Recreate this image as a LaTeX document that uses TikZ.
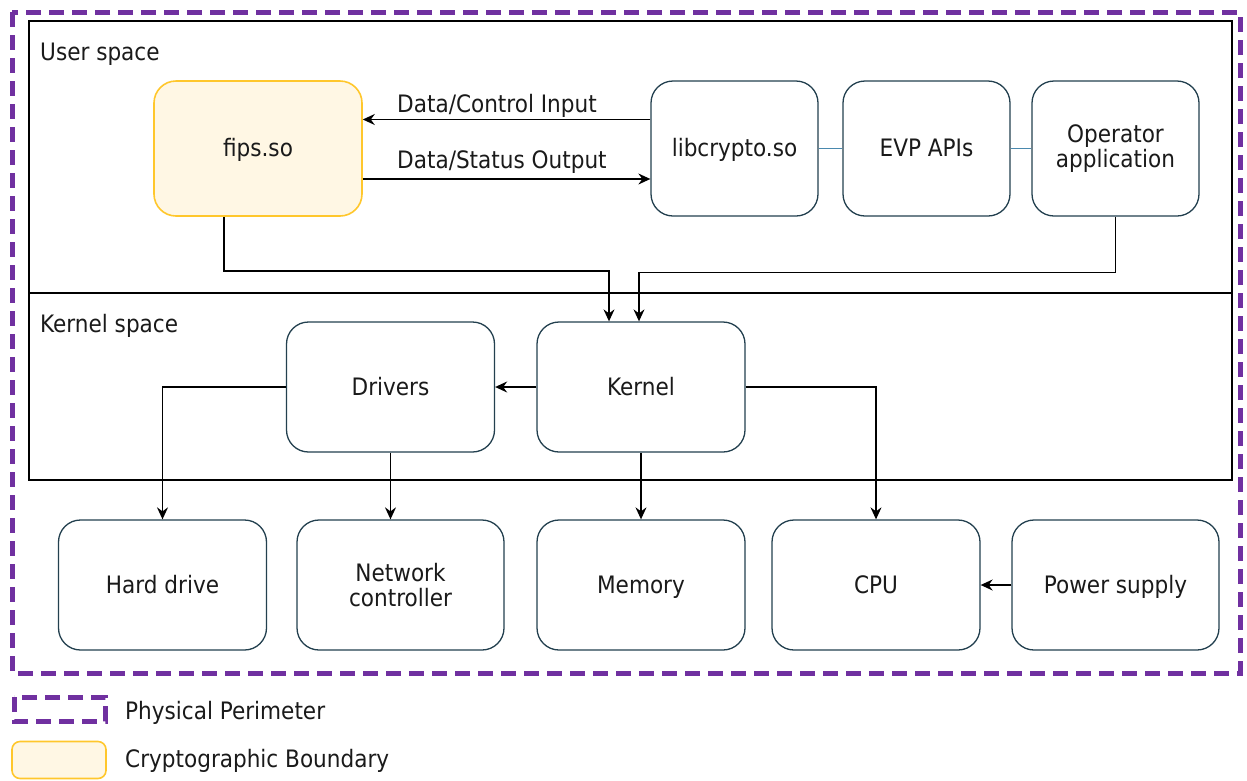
\documentclass[tikz,border=0pt]{standalone}
\usepackage{fontspec}
\setmainfont{DejaVu Sans Condensed}
\usetikzlibrary{arrows.meta,calc}
\definecolor{perim}{HTML}{7030A0}
\definecolor{boxline}{HTML}{23404F}
\definecolor{cbfill}{HTML}{FFF7E4}
\definecolor{cbline}{HTML}{FFC72C}
\definecolor{bluelink}{HTML}{4A89AE}
\definecolor{txt}{HTML}{1A1A1A}
\tikzset{
  blk/.style={draw=boxline, line width=1.3pt, rounded corners=22pt, fill=white,
    minimum width=208pt, minimum height=135pt, inner sep=0pt, align=center,
    text=txt, font=\fontsize{24}{25.5}\selectfont},
  oneline/.style={text height=16pt, text depth=0pt},
  cb/.style={blk, draw=cbline, fill=cbfill, line width=1.6pt},
  arr/.style={draw=black, line width=1.4pt, -{Stealth[length=12pt,width=11pt,inset=4pt]}},
  lbl/.style={text=txt, font=\fontsize{24}{25.5}\selectfont, inner sep=0pt},
  region/.style={draw=black, line width=1.4pt},
  perimeter/.style={draw=perim, line width=5pt, dash pattern=on 15pt off 8pt},
  blink/.style={draw=bluelink, line width=1.3pt}
}
\begin{document}
\begin{tikzpicture}[x=1pt,y=-1pt]
\useasboundingbox (0,0) rectangle (1247,780);
% outer perimeter and spaces
\draw[perimeter] (12,12) rectangle (1240,673);
\draw[region] (29,21) rectangle (1232,293);
\draw[region] (29,293) rectangle (1232,480);
\node[lbl, anchor=base west] (us) at (40,60) {User space};
\node[lbl, anchor=base west] (ks) at (40,332) {Kernel space};
% user space nodes
\node[cb, oneline, minimum width=208pt] (fips) at (258,148.5) {fips.so};
\node[blk, oneline, minimum width=167pt] (lib) at (734.5,148.5) {libcrypto.so};
\node[blk, oneline, minimum width=167pt] (evp) at (926.5,148.5) {EVP APIs};
\node[blk, minimum width=167pt] (op) at (1115.5,148.5) {Operator\\application};
% kernel space nodes
\node[blk, oneline, minimum height=130pt] (drv) at (390.5,387) {Drivers};
\node[blk, oneline, minimum height=130pt] (ker) at (641,387) {Kernel};
% hardware
\node[blk, oneline, minimum height=130pt] (hd) at (162.5,585) {Hard drive};
\node[blk, minimum height=130pt, minimum width=207pt] (net) at (400.5,585) {Network\\controller};
\node[blk, oneline, minimum height=130pt] (mem) at (641,585) {Memory};
\node[blk, oneline, minimum height=130pt] (cpu) at (876,585) {CPU};
\node[blk, oneline, minimum height=130pt, minimum width=207pt] (ps) at (1115.5,585) {Power supply};
% links in user space
\draw[blink] (lib.east) -- (evp.west);
\draw[blink] (evp.east) -- (op.west);
\draw[arr] ([yshift=29pt]lib.west) -- ([yshift=29pt]fips.east);
\draw[arr] ([yshift=-30.5pt]fips.east) -- ([yshift=-30.5pt]lib.west);
\node[lbl, anchor=base west] (dci) at (397,112.3) {Data/Control Input};
\node[lbl, anchor=base west] (dso) at (397,168.3) {Data/Status Output};
% to kernel
\draw[arr] ([xshift=-34pt]fips.south) -- ++(0,54) -| ([xshift=-32pt]ker.north);
\draw[arr] (op.south) -- ++(0,56) -| ([xshift=-2pt]ker.north);
% kernel space links
\draw[arr] (ker.west) -- (drv.east);
\draw[arr] (drv.west) -| (hd.north);
\draw[arr] (drv.south) -- (drv.south |- net.north);
\draw[arr] (ker.south) -- (mem.north);
\draw[arr] (ker.east) -| (cpu.north);
\draw[arr] (ps.west) -- (cpu.east);
% legend
\draw[perimeter] (14,697) rectangle (105,721);
\node[lbl, anchor=base west] (lp) at (125,719) {Physical Perimeter};
\node[cb, minimum width=94pt, minimum height=37pt, rounded corners=8pt] (lc) at (59,760) {};
\node[lbl, anchor=base west] (lcb) at (125,767) {Cryptographic Boundary};
\end{tikzpicture}
\end{document}
